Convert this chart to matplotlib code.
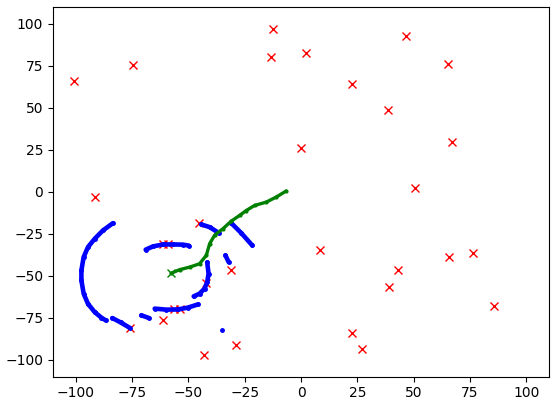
import numpy as np
import matplotlib
matplotlib.use("Agg")
import matplotlib.pyplot as plt

# landmarks (red crosses)
lm_x = [-100.5, -74.7, -91.5, -12.2, -13.1, 2.0, 0.2, 22.8, 38.8, 46.7, 65.4, 67.1,
        50.7, 8.6, 43.2, 39.2, 65.8, 76.4, 85.7, 22.8, 27.2, -29.0, -43.2, -31.2,
        -45.4, -61.2, -59.0, -61.4, -76.0, -42.3, -56.5, -53.8]
lm_y = [65.7, 75.2, -3.4, 96.6, 79.9, 82.3, 25.8, 63.9, 48.4, 92.4, 75.8, 29.4,
        2.0, -34.9, -46.8, -57.0, -39.1, -36.7, -68.3, -84.3, -93.9, -91.5, -97.4, -46.8,
        -18.9, -31.4, -31.4, -76.6, -81.4, -54.3, -69.8, -69.8]

# scan segments (blue)
scans = [
    ([-83.4, -87.8, -91.5, -94.5, -96.4, -97.4, -97.4, -96.4, -94.5, -91.5, -88.5, -86.6],
     [-18.7, -23.0, -28.0, -33.0, -38.9, -46.8, -52.8, -60.7, -66.7, -71.7, -75.0, -76.6]),
    ([-83.7, -80.0, -76.0], [-75.2, -77.8, -81.0]),
    ([-70.8, -67.4], [-73.6, -75.2]),
    ([-68.9, -65.7, -61.2, -56.8, -52.4, -49.7], [-34.5, -32.6, -31.4, -31.4, -31.5, -32.1]),
    ([-41.6, -41.0, -41.6, -42.8, -45.0, -47.6], [-42.1, -48.8, -53.8, -57.7, -60.7, -62.3]),
    ([-64.9, -59.7, -54.6, -50.2, -45.7], [-69.6, -70.2, -70.1, -69.0, -67.1]),
    ([-44.2, -40.5, -36.4], [-19.5, -21.1, -24.6]),
    ([-30.9, -26.5, -21.6], [-18.7, -24.6, -32.0]),
    ([-33.5, -32.1], [-37.9, -41.9]),
    ([-35.1], [-82.1]),
]

# robot path (green)
path_x = [-6.6, -11.0, -15.4, -20.6, -24.3, -27.2, -30.9, -34.6, -38.3, -40.5, -42.0,
          -45.0, -49.4, -53.8, -57.5]
path_y = [0.4, -3.2, -6.2, -8.2, -11.2, -14.1, -17.5, -22.0, -25.9, -30.9, -37.9,
          -42.9, -44.9, -46.4, -48.5]

fig = plt.figure(figsize=(5.59, 4.04), dpi=100)
ax = fig.add_axes([53 / 559, 27.5 / 404, 496 / 559, 369.6 / 404])

ax.plot(lm_x, lm_y, 'rx')
for sx, sy in scans:
    ax.plot(sx, sy, color='b', marker='.', ms=5, lw=3.3, solid_capstyle='round')
ax.plot(path_x, path_y, color='g', marker='.', ms=4, lw=2.4, solid_capstyle='round')
ax.plot(path_x[-1], path_y[-1], 'gx')

ax.set_xlim(-110, 110)
ax.set_ylim(-110, 110)

fig.savefig("out.png", dpi=100)
